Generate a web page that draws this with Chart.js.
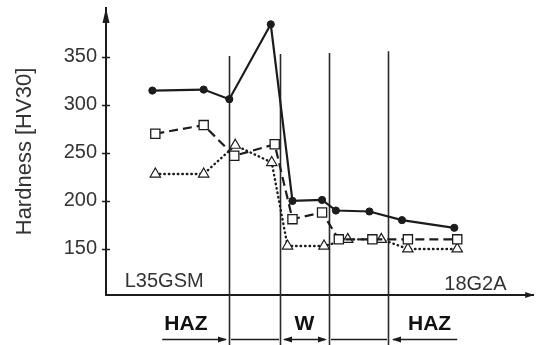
<!DOCTYPE html>
<html>
<head>
<meta charset="utf-8">
<script src="https://cdn.jsdelivr.net/npm/chart.js@4"></script>
<style>
  body { margin: 0; background: #fff; }
</style>
</head>
<body>
<canvas id="chart" width="541" height="345"></canvas>
<script>
// Distance along the joint (arbitrary mm-like units) and hardness values
const solidX = [4.7, 9.9, 12.5, 16.7, 18.9, 21.9, 23.3, 26.7, 30.0, 35.3];
const solidY = [315, 316, 306, 384, 200, 201, 190, 189, 180, 172];

const squareX = [5.0, 9.9, 13.0, 17.1, 18.9, 21.9, 23.6, 27.0, 30.6, 35.6];
const squareY = [270, 279, 247, 259, 181, 188, 160, 160, 160, 160];

const triX = [5.0, 9.9, 13.1, 16.8, 18.4, 22.1, 24.5, 27.9, 30.6, 35.6];
const triY = [228, 228, 258, 240, 153, 153, 160, 160, 150, 150];

const yTicks = [150, 200, 250, 300, 350];

// Zone boundaries (vertical lines) and how high they reach
const boundX = [12.5, 17.6, 22.6, 28.6];
const boundTop = [351, 353, 354, 356];

// Zone labels under the axis
const zoneLabels = ['HAZ', 'W', 'HAZ'];
const zoneLabelX = [8.1, 20.1, 32.8];

const ink = '#1c1c1c';
const textGray = '#333';
const fontFam = '"Liberation Sans", Arial, sans-serif';

function pts(xs, ys) {
    return xs.map((x, i) => ({ x: x, y: ys[i] }));
}

function arrowHead(ctx, x, y, dir) {
    // dir: 'up', 'right', 'left'
    ctx.beginPath();
    if (dir === 'up') {
        ctx.moveTo(x, y);
        ctx.lineTo(x - 3.5, y + 15);
        ctx.lineTo(x + 3.5, y + 15);
    } else if (dir === 'right') {
        ctx.moveTo(x, y);
        ctx.lineTo(x - 9, y - 3);
        ctx.lineTo(x - 9, y + 3);
    } else {
        ctx.moveTo(x, y);
        ctx.lineTo(x + 9, y - 3);
        ctx.lineTo(x + 9, y + 3);
    }
    ctx.closePath();
    ctx.fill();
}

const decorPlugin = {
    id: 'decor',
    beforeDatasetsDraw(chart) {
        const ctx = chart.ctx;
        const xs = chart.scales.x;
        const ys = chart.scales.y;
        ctx.save();
        // zone boundary lines
        ctx.strokeStyle = '#2a2a2a';
        ctx.lineWidth = 1.6;
        boundX.forEach((b, i) => {
            const px = Math.round(xs.getPixelForValue(b)) + 0.5;
            ctx.beginPath();
            ctx.moveTo(px, ys.getPixelForValue(boundTop[i]));
            ctx.lineTo(px, chart.height);
            ctx.stroke();
        });
        ctx.restore();
    },
    afterDraw(chart) {
        const ctx = chart.ctx;
        const xs = chart.scales.x;
        const ys = chart.scales.y;
        const area = chart.chartArea;
        ctx.save();
        ctx.fillStyle = ink;
        ctx.strokeStyle = ink;

        // axis arrows
        arrowHead(ctx, area.left, area.top, 'up');
        arrowHead(ctx, area.right + 1, area.bottom, 'right');

        // tick marks crossing the y axis
        ctx.lineWidth = 1.5;
        yTicks.forEach(v => {
            const py = Math.round(ys.getPixelForValue(v)) + 0.5;
            ctx.beginPath();
            ctx.moveTo(area.left - 4, py);
            ctx.lineTo(area.left + 4, py);
            ctx.stroke();
        });

        // material labels inside the plot
        ctx.fillStyle = textGray;
        ctx.font = '20px ' + fontFam;
        ctx.textBaseline = 'middle';
        ctx.textAlign = 'left';
        ctx.fillText('L35GSM', xs.getPixelForValue(1.9), ys.getPixelForValue(116));
        ctx.textAlign = 'right';
        ctx.fillText('18G2A', xs.getPixelForValue(40.6), ys.getPixelForValue(113));

        // zone labels
        ctx.fillStyle = '#111';
        ctx.font = 'bold 21px ' + fontFam;
        ctx.textAlign = 'center';
        zoneLabels.forEach((t, i) => {
            ctx.fillText(t, xs.getPixelForValue(zoneLabelX[i]), area.bottom + 29);
        });

        // zone arrows under the labels
        const ay = area.bottom + 44.5;
        const b = boundX.map(v => Math.round(xs.getPixelForValue(v)));
        ctx.fillStyle = ink;
        ctx.lineWidth = 1.6;
        const seg = (x1, x2) => {
            ctx.beginPath();
            ctx.moveTo(x1, ay);
            ctx.lineTo(x2, ay);
            ctx.stroke();
        };
        // HAZ (left side)
        seg(xs.getPixelForValue(5.7), b[0] - 3);
        arrowHead(ctx, b[0] - 2, ay, 'right');
        seg(b[0] + 2, b[1] - 1);
        // W
        seg(b[1] + 4, b[2] - 4);
        arrowHead(ctx, b[1] + 3, ay, 'left');
        arrowHead(ctx, b[2] - 2, ay, 'right');
        seg(b[2] + 2, b[3] - 1);
        // HAZ (right side)
        seg(b[3] + 5, xs.getPixelForValue(35.6));
        arrowHead(ctx, b[3] + 4, ay, 'left');

        ctx.restore();
    }
};

new Chart(document.getElementById('chart'), {
    type: 'scatter',
    data: {
        datasets: [
            {
                data: pts(solidX, solidY),
                showLine: true,
                borderColor: ink,
                borderWidth: 2.2,
                pointStyle: 'circle',
                pointRadius: 3.6,
                pointBackgroundColor: ink,
                pointBorderColor: ink,
                pointBorderWidth: 1
            },
            {
                data: pts(squareX, squareY),
                showLine: true,
                borderColor: ink,
                borderWidth: 2.2,
                borderDash: [9, 5],
                pointStyle: 'rect',
                pointRadius: 6.5,
                pointBackgroundColor: '#fff',
                pointBorderColor: ink,
                pointBorderWidth: 1.3
            },
            {
                data: pts(triX, triY),
                showLine: true,
                borderColor: ink,
                borderWidth: 2.4,
                borderDash: [0.5, 4],
                borderCapStyle: 'round',
                pointStyle: 'triangle',
                pointRadius: 6,
                pointBackgroundColor: '#fff',
                pointBorderColor: ink,
                pointBorderWidth: 1.2
            }
        ]
    },
    options: {
        responsive: false,
        animation: false,
        layout: { padding: { top: 8, right: 2, left: 0, bottom: 0 } },
        plugins: {
            legend: { display: false },
            tooltip: { enabled: false }
        },
        scales: {
            x: {
                type: 'linear',
                min: 0,
                max: 43.3,
                ticks: { display: false },
                grid: { display: false, drawTicks: false },
                border: { display: true, color: ink, width: 2 },
                afterFit: s => { s.height = 50; s.paddingLeft = 0; s.paddingRight = 0; }
            },
            y: {
                type: 'linear',
                min: 102,
                max: 401,
                afterBuildTicks: axis => { axis.ticks = yTicks.map(v => ({ value: v })); },
                ticks: {
                    padding: 9,
                    color: textGray,
                    font: { family: fontFam, size: 20 }
                },
                grid: { display: false, drawTicks: false },
                border: { display: true, color: ink, width: 2 },
                title: {
                    display: true,
                    text: 'Hardness [HV30]',
                    color: textGray,
                    font: { family: fontFam, size: 22 },
                    padding: { top: 12, bottom: 0 }
                },
                afterFit: s => { s.width = 106; s.paddingTop = 0; s.paddingBottom = 0; }
            }
        }
    },
    plugins: [decorPlugin]
});
</script>
</body>
</html>
